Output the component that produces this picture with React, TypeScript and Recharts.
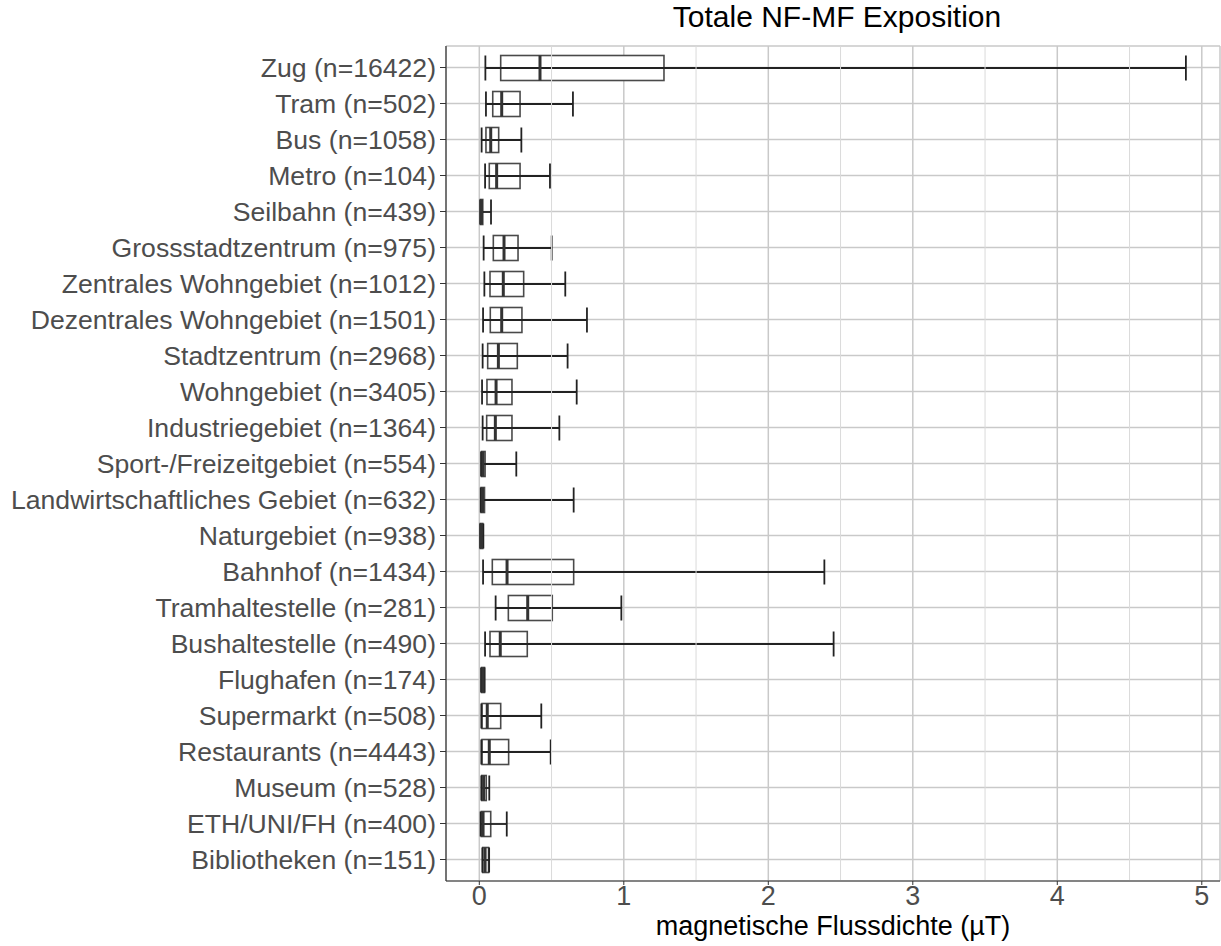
import React from 'react';
import {
  ComposedChart,
  Bar,
  XAxis,
  YAxis,
  CartesianGrid,
  ReferenceLine,
} from 'recharts';

const categories = [
  'Zug (n=16422)',
  'Tram (n=502)',
  'Bus (n=1058)',
  'Metro (n=104)',
  'Seilbahn (n=439)',
  'Grossstadtzentrum (n=975)',
  'Zentrales Wohngebiet (n=1012)',
  'Dezentrales Wohngebiet (n=1501)',
  'Stadtzentrum (n=2968)',
  'Wohngebiet (n=3405)',
  'Industriegebiet (n=1364)',
  'Sport-/Freizeitgebiet (n=554)',
  'Landwirtschaftliches Gebiet (n=632)',
  'Naturgebiet (n=938)',
  'Bahnhof (n=1434)',
  'Tramhaltestelle (n=281)',
  'Bushaltestelle (n=490)',
  'Flughafen (n=174)',
  'Supermarkt (n=508)',
  'Restaurants (n=4443)',
  'Museum (n=528)',
  'ETH/UNI/FH (n=400)',
  'Bibliotheken (n=151)',
];

const whiskerLow = [0.042, 0.046, 0.016, 0.04, 0.006, 0.03, 0.035, 0.026, 0.023, 0.019, 0.023, 0.012, 0.01, 0.006, 0.026, 0.113, 0.04, 0.012, 0.014, 0.014, 0.014, 0.009, 0.021];
const q1 = [0.148, 0.093, 0.046, 0.069, 0.008, 0.097, 0.074, 0.076, 0.058, 0.053, 0.051, 0.016, 0.012, 0.007, 0.09, 0.201, 0.074, 0.016, 0.019, 0.019, 0.017, 0.014, 0.024];
const median = [0.42, 0.155, 0.079, 0.12, 0.015, 0.171, 0.166, 0.155, 0.132, 0.116, 0.111, 0.026, 0.022, 0.014, 0.192, 0.335, 0.145, 0.025, 0.055, 0.069, 0.03, 0.026, 0.04];
const q3 = [1.278, 0.282, 0.134, 0.282, 0.024, 0.268, 0.307, 0.295, 0.263, 0.226, 0.226, 0.04, 0.036, 0.024, 0.653, 0.505, 0.332, 0.036, 0.148, 0.203, 0.048, 0.079, 0.064];
const whiskerHigh = [4.89, 0.648, 0.291, 0.489, 0.081, 0.501, 0.595, 0.745, 0.611, 0.674, 0.554, 0.256, 0.653, 0.028, 2.388, 0.983, 2.452, 0.036, 0.429, 0.494, 0.069, 0.19, 0.068];

const xTicks = [0, 1, 2, 3, 4, 5];
const minorTicks = [0.5, 1.5, 2.5, 3.5, 4.5];

const data = categories.map((name, i) => ({
  name,
  lo: whiskerLow[i],
  q1: q1[i],
  med: median[i],
  q3: q3[i],
  hi: whiskerHigh[i],
}));

const FONT = '"Liberation Sans", Arial, Helvetica, sans-serif';

// draws the whole box from the range bar geometry (x..x+width = lo..hi)
const BoxShape = (props: any) => {
  const { x, y, width, height, payload } = props;
  const { lo, hi } = payload;
  const px = (v: number) => x + ((v - lo) / (hi - lo)) * width;
  const cy = y + height / 2;
  return (
    <g>
      <rect
        x={px(payload.q1)}
        y={y}
        width={Math.max(px(payload.q3) - px(payload.q1), 0.5)}
        height={height}
        fill="#ffffff"
        stroke="#4a4a4a"
        strokeWidth={1.6}
      />
      <line x1={px(lo)} x2={px(hi)} y1={cy} y2={cy} stroke="#222" strokeWidth={1.8} />
      <line x1={px(lo)} x2={px(lo)} y1={y} y2={y + height} stroke="#222" strokeWidth={1.8} />
      <line x1={px(hi)} x2={px(hi)} y1={y} y2={y + height} stroke="#222" strokeWidth={1.8} />
      <line
        x1={px(payload.med)}
        x2={px(payload.med)}
        y1={y}
        y2={y + height}
        stroke="#333"
        strokeWidth={3}
      />
    </g>
  );
};

const App: React.FC = () => {
  return (
    <div style={{ position: 'absolute', left: 0, top: 0, width: 1221, height: 946, background: '#fff', fontFamily: FONT }}>
      <div
        style={{
          position: 'absolute',
          left: 446,
          width: 782,
          top: 0,
          textAlign: 'center',
          fontSize: 30,
          color: '#000',
        }}
      >
        Totale NF-MF Exposition
      </div>
      <ComposedChart
        layout="vertical"
        width={1221}
        height={946}
        data={data}
        margin={{ top: 46, right: 1, bottom: 0, left: 0 }}
        style={{ fontFamily: FONT }}
      >
        <CartesianGrid stroke="#c9c9c9" strokeWidth={1.5} />
        {minorTicks.map((t) => (
          <ReferenceLine key={t} x={t} stroke="#dadada" strokeWidth={1} />
        ))}
        <XAxis
          type="number"
          domain={[-0.2305, 5.126]}
          ticks={xTicks}
          allowDataOverflow
          height={65}
          tick={{ fontSize: 27, fill: '#4d4d4d' }}
          tickLine={{ stroke: '#333' }}
          tickSize={4}
          tickMargin={1}
          axisLine={{ stroke: '#333', strokeWidth: 1.2 }}
          label={{ value: 'magnetische Flussdichte (µT)', position: 'insideBottom', offset: 11, fontSize: 27, fill: '#000' }}
        />
        <XAxis
          xAxisId="top"
          orientation="top"
          type="number"
          domain={[-0.2305, 5.126]}
          allowDataOverflow
          height={0}
          tick={false}
          tickLine={false}
          axisLine={{ stroke: '#333', strokeWidth: 1.2 }}
        />
        <YAxis
          type="category"
          dataKey="name"
          width={446}
          interval={0}
          padding={{ top: 3.5, bottom: 3.5 }}
          tick={{ fontSize: 26.6, fill: '#4d4d4d' }}
          tickLine={{ stroke: '#333' }}
          tickSize={6}
          tickMargin={4}
          axisLine={{ stroke: '#333', strokeWidth: 1.2 }}
        />
        <YAxis
          yAxisId="right"
          orientation="right"
          type="category"
          dataKey="name"
          width={0}
          tick={false}
          tickLine={false}
          axisLine={{ stroke: '#333', strokeWidth: 1.2 }}
        />
        <Bar
          dataKey={(d: any) => [d.lo, d.hi]}
          barSize={25}
          shape={<BoxShape />}
          isAnimationActive={false}
        />
      </ComposedChart>
    </div>
  );
};

export default App;
